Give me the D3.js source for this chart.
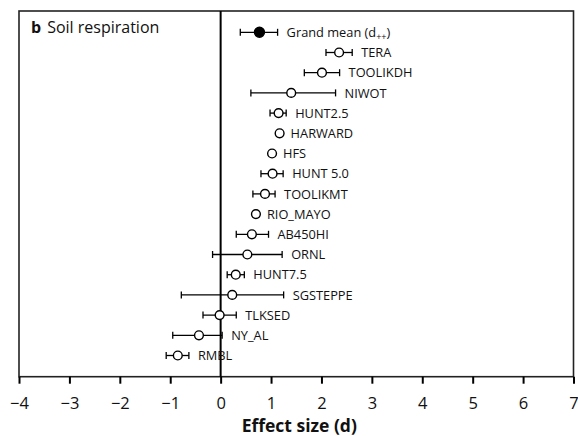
<!DOCTYPE html>
<html>
<head>
<meta charset="utf-8">
<script src="https://cdn.jsdelivr.net/npm/d3@7"></script>
<style>
  html, body { margin: 0; padding: 0; background: #fff; }
  svg { display: block; }
  text { font-family: "Open Sans", "Noto Sans", sans-serif; fill: #111; }
</style>
</head>
<body>
<svg id="chart" width="578" height="436"></svg>
<script>
// Site-level effect sizes for soil respiration (first row is the grand mean d++)
const sites = ["Grand mean", "TERA", "TOOLIKDH", "NIWOT", "HUNT2.5", "HARWARD", "HFS",
  "HUNT 5.0", "TOOLIKMT", "RIO_MAYO", "AB450HI", "ORNL", "HUNT7.5", "SGSTEPPE",
  "TLKSED", "NY_AL", "RMBL"];
const effect = [0.77, 2.35, 2.01, 1.40, 1.15, 1.17, 1.02, 1.03, 0.88, 0.70, 0.62, 0.53,
  0.30, 0.23, -0.02, -0.43, -0.85];
// 95% confidence limits; null where the interval is hidden by the marker
const lower = [0.39, 2.09, 1.66, 0.60, 0.98, null, null, 0.80, 0.64, null, 0.31, -0.16,
  0.13, -0.78, -0.35, -0.95, -1.08];
const upper = [1.13, 2.61, 2.36, 2.28, 1.30, null, null, 1.24, 1.08, null, 0.95, 1.22,
  0.47, 1.25, 0.31, 0.03, -0.63];
const xTicks = [-4, -3, -2, -1, 0, 1, 2, 3, 4, 5, 6, 7];

const rows = sites.map((s, i) => ({
  site: s, d: effect[i], lo: lower[i], hi: upper[i], grand: i === 0
}));

const svg = d3.select("#chart");
const plotLeft = 19, plotRight = 573.5, plotTop = 11, plotBottom = 376.7;

const x = d3.scaleLinear().domain([-4, 7]).range([plotLeft, plotRight]);
const y = d3.scalePoint().domain(sites).range([32.3, 355.5]);

// frame
svg.append("rect")
  .attr("x", plotLeft).attr("y", plotTop)
  .attr("width", plotRight - plotLeft).attr("height", plotBottom - plotTop)
  .attr("fill", "none").attr("stroke", "#222").attr("stroke-width", 1.6);

// zero reference line
svg.append("line")
  .attr("x1", x(0)).attr("x2", x(0))
  .attr("y1", plotTop).attr("y2", plotBottom)
  .attr("stroke", "#000").attr("stroke-width", 2);

// x axis
const axis = d3.axisBottom(x)
  .tickValues(xTicks)
  .tickSize(7)
  .tickPadding(14)
  .tickFormat(d => d < 0 ? "\u2212" + Math.abs(d) : String(d));
const gx = svg.append("g")
  .attr("transform", `translate(0,${plotBottom})`)
  .call(axis);
gx.select(".domain").remove();
gx.selectAll(".tick line").attr("stroke", "#000").attr("stroke-width", 2);
gx.selectAll(".tick text")
  .attr("font-size", 16.5)
  .style("font-family", "'Open Sans', 'Noto Sans', sans-serif")
  .attr("fill", "#111");

svg.append("text")
  .attr("x", (plotLeft + plotRight) / 2 + 3).attr("y", 432)
  .attr("text-anchor", "middle")
  .attr("font-size", 17.5).attr("font-weight", "bold")
  .text("Effect size (d)");

// panel title
const title = svg.append("text").attr("x", 31).attr("y", 33).attr("font-size", 16);
title.append("tspan").attr("font-weight", "bold").text("b");
title.append("tspan").attr("dx", 6).text("Soil respiration");

// confidence intervals
const ci = svg.append("g").selectAll("g")
  .data(rows.filter(r => r.lo !== null))
  .join("g")
  .attr("stroke", "#000").attr("stroke-width", 1.3);
ci.append("line")
  .attr("x1", r => x(r.lo)).attr("x2", r => x(r.hi))
  .attr("y1", r => y(r.site)).attr("y2", r => y(r.site));
ci.append("line")
  .attr("x1", r => x(r.lo)).attr("x2", r => x(r.lo))
  .attr("y1", r => y(r.site) - 3.5).attr("y2", r => y(r.site) + 3.5);
ci.append("line")
  .attr("x1", r => x(r.hi)).attr("x2", r => x(r.hi))
  .attr("y1", r => y(r.site) - 3.5).attr("y2", r => y(r.site) + 3.5);

// point estimates
svg.append("g").selectAll("circle")
  .data(rows)
  .join("circle")
  .attr("cx", r => x(r.d)).attr("cy", r => y(r.site))
  .attr("r", r => r.grand ? 5 : 4.4)
  .attr("fill", r => r.grand ? "#000" : "#fff")
  .attr("stroke", "#000").attr("stroke-width", 1.4);

// site labels
const labels = svg.append("g").selectAll("text")
  .data(rows)
  .join("text")
  .attr("x", r => Math.max(r.hi !== null ? x(r.hi) + 9 : -Infinity, x(r.d) + 11))
  .attr("y", r => y(r.site))
  .attr("dy", "0.36em")
  .attr("font-size", 12.8);
labels.filter(r => !r.grand).text(r => r.site);
const gm = labels.filter(r => r.grand);
gm.append("tspan").text("Grand mean (d");
gm.append("tspan").attr("font-size", 9).attr("dy", 3).text("++");
gm.append("tspan").attr("dy", -3).text(")");
</script>
</body>
</html>
